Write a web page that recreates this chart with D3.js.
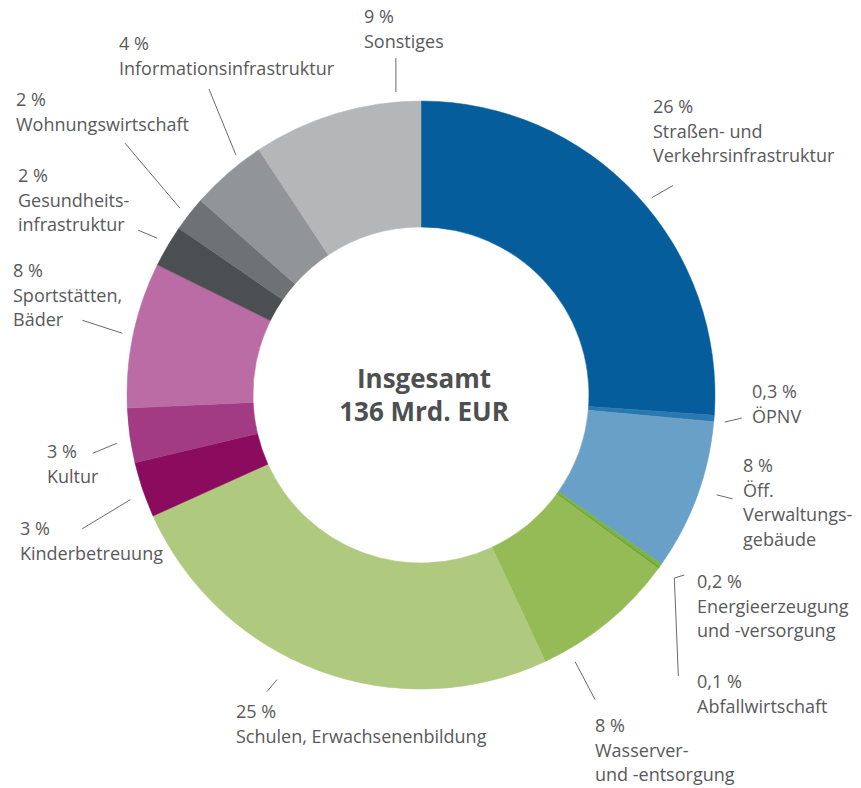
<!DOCTYPE html>
<html>
<head>
<meta charset="utf-8">
<script src="https://cdn.jsdelivr.net/npm/d3@7/dist/d3.min.js"></script>
<style>
  html, body { margin: 0; padding: 0; background: #fff; }
  svg { display: block; }
  text { font-family: "Open Sans", "Noto Sans", sans-serif; }
</style>
</head>
<body>
<div id="chart"></div>
<script>
// categories, clockwise from 12 o'clock
const categories = [
  'Straßen- und Verkehrsinfrastruktur', 'ÖPNV', 'Öff. Verwaltungsgebäude',
  'Energieerzeugung und -versorgung', 'Abfallwirtschaft', 'Wasserver- und -entsorgung',
  'Schulen, Erwachsenenbildung', 'Kinderbetreuung', 'Kultur', 'Sportstätten, Bäder',
  'Gesundheitsinfrastruktur', 'Wohnungswirtschaft', 'Informationsinfrastruktur', 'Sonstiges'
];
// share in percent (slice sizes)
const shares = [26.1, 0.35, 8.3, 0.2, 0.1, 8.0, 25.2, 3.05, 3.0, 8.0, 2.3, 1.9, 4.2, 9.3];
// printed label lines
const labelLines = [
  ['26 %', 'Straßen- und', 'Verkehrsinfrastruktur'],
  ['0,3 %', 'ÖPNV'],
  ['8 %', 'Öff.', 'Verwaltungs-', 'gebäude'],
  ['0,2 %', 'Energieerzeugung', 'und -versorgung'],
  ['0,1 %', 'Abfallwirtschaft'],
  ['8 %', 'Wasserver-', 'und -entsorgung'],
  ['25 %', 'Schulen, Erwachsenenbildung'],
  ['3 %', 'Kinderbetreuung'],
  ['3 %', 'Kultur'],
  ['8 %', 'Sportstätten,', 'Bäder'],
  ['2 %', 'Gesundheits-', 'infrastruktur'],
  ['2 %', 'Wohnungswirtschaft'],
  ['4 %', 'Informationsinfrastruktur'],
  ['9 %', 'Sonstiges']
];
const totalLines = ['Insgesamt', '136 Mrd. EUR'];

const colors = [
  '#055e9b', '#2a78b0', '#68a0c8', '#7cb342', '#6aa532', '#95bb56', '#afc97f',
  '#8b0c5f', '#a23b83', '#bb6ca5', '#4b4f52', '#6e7274', '#929597', '#b5b6b8'
];

// label placement: text anchor (x, first baseline), leader start as angle shift
// (deg) from slice middle + radius, leader path as relative offsets
const layout = [
  { x: 653, y: 113, dAng: 2.5,  r: 304, path: [[21, -12]] },
  { x: 752, y: 398, dAng: 0.5,  r: 305, path: [[17, -4]] },
  { x: 743, y: 472, dAng: -1.5, r: 312, path: [[16, 4]] },
  { x: 697, y: 588, dAng: -1.1, r: 319, path: [[-10, 3], [4, 98]] },
  { x: 697, y: 688 },
  { x: 595, y: 732, dAng: 9.4,  r: 308, path: [[20, 38]] },
  { x: 236, y: 718, dAng: 6.5,  r: 319, path: [[-10, 12]] },
  { x: 20,  y: 535, dAng: -1,   r: 309, path: [[-48, 29]] },
  { x: 47,  y: 458, dAng: -1.1, r: 308, path: [[-24, 10]] },
  { x: 13,  y: 277, dAng: -0.2, r: 305, path: [[-40, -13]] },
  { x: 18,  y: 182, dAng: 0.3,  r: 307, path: [[-19, -8]] },
  { x: 16,  y: 106, dAng: -0.2, r: 305, path: [[-55, -65]] },
  { x: 119, y: 50,  dAng: 3.4,  r: 303, path: [[-27, -66]] },
  { x: 364, y: 23,  dAng: 12,   r: 304, path: [[0, -34]] }
];

const width = 861, height = 788;
const cx = 421, cy = 395;
const outerR = 294, innerR = 168;
const lineH = 24.5;

const svg = d3.select('#chart').append('svg')
  .attr('width', width)
  .attr('height', height);

const data = categories.map((c, i) => ({ name: c, value: shares[i], idx: i }));

const pie = d3.pie().value(d => d.value).sort(null);
const arcs = pie(data);
const arc = d3.arc().innerRadius(innerR).outerRadius(outerR);

const g = svg.append('g').attr('transform', `translate(${cx},${cy})`);

g.selectAll('path.slice')
  .data(arcs)
  .enter()
  .append('path')
  .attr('class', 'slice')
  .attr('d', arc)
  .attr('fill', d => colors[d.data.idx])
  .attr('stroke', d => colors[d.data.idx])
  .attr('stroke-width', 0.5);

// leader lines
const toRad = deg => deg * Math.PI / 180;
const leaders = arcs.map((a, i) => {
  const l = layout[i];
  if (!l.path) return null;
  const ang = (a.startAngle + a.endAngle) / 2 + toRad(l.dAng);
  let x = cx + l.r * Math.sin(ang), y = cy - l.r * Math.cos(ang);
  const pts = [[x, y]];
  l.path.forEach(p => { x += p[0]; y += p[1]; pts.push([x, y]); });
  return pts;
}).filter(p => p);

svg.append('g').selectAll('path')
  .data(leaders)
  .enter()
  .append('path')
  .attr('d', d3.line())
  .attr('fill', 'none')
  .attr('stroke', '#6a6a6a')
  .attr('stroke-width', 1);

// labels
const labels = svg.append('g')
  .attr('font-size', 18)
  .attr('fill', '#58595b');

labelLines.forEach((lines, i) => {
  const l = layout[i];
  const t = labels.append('text').attr('x', l.x).attr('y', l.y);
  lines.forEach((s, j) => {
    t.append('tspan').attr('x', l.x).attr('y', l.y + j * lineH).text(s);
  });
});

// centre caption
svg.append('g')
  .attr('font-size', 26)
  .attr('font-weight', 700)
  .attr('fill', '#4d4f51')
  .attr('text-anchor', 'middle')
  .selectAll('text')
  .data(totalLines)
  .enter()
  .append('text')
  .attr('x', cx + 3)
  .attr('y', (d, i) => 388 + i * 33)
  .text(d => d);
</script>
</body>
</html>
